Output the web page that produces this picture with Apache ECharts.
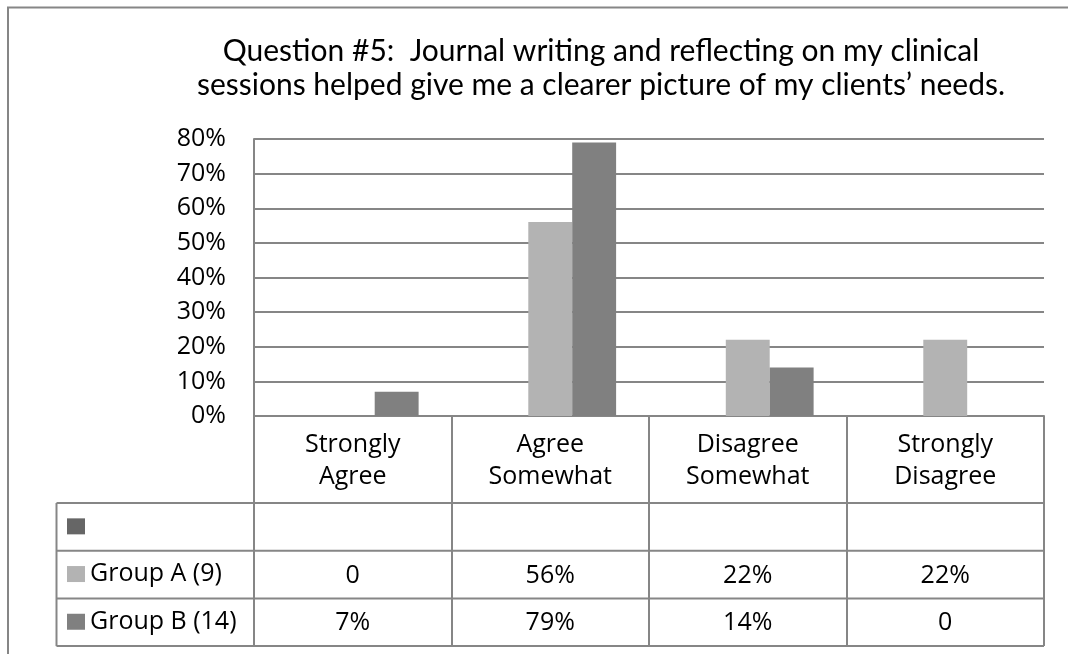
<!DOCTYPE html>
<html>
<head>
<meta charset="utf-8">
<script src="https://cdn.jsdelivr.net/npm/echarts@6/dist/echarts.min.js"></script>
<style>
  html, body { margin: 0; padding: 0; background: #ffffff; }
  #chart { width: 1068px; height: 654px; }
</style>
</head>
<body>
<div id="chart"></div>
<script>
// Survey question and answer categories
const titleLines = [
  'Question #5:  Journal writing and reflecting on my clinical',
  'sessions helped give me a clearer picture of my clients\u2019 needs.'
];
const categories = ['Strongly Agree', 'Agree Somewhat', 'Disagree Somewhat', 'Strongly Disagree'];

// Series (the first one is an unnamed, empty series)
const seriesNames = [' ', 'Group A (9)', 'Group B (14)'];
const blankValues = [null, null, null, null];
const groupAValues = [0, 0.56, 0.22, 0.22];
const groupBValues = [0.07, 0.79, 0.14, 0];

// Value axis ticks
const yTickLabels = ['0%', '10%', '20%', '30%', '40%', '50%', '60%', '70%', '80%'];
const yMin = 0, yMax = 0.8, yStep = 0.1;

const seriesValues = [blankValues, groupAValues, groupBValues];
const colors = ['#666666', '#b3b3b3', '#808080'];
const lineColor = '#868686';
const FONT = '"Open Sans", "Noto Sans", sans-serif';
const TITLE_FONT = 'Lato, "Open Sans", sans-serif';

// plot area and data table geometry
const W = 1068, H = 654;
const gridTop = 139, gridBottom = 238, gridLeft = 254, gridRight = 24;
const plotBottom = H - gridBottom;
const headerH = 87;
const rowH = 47.7;
const tableH = headerH + rowH * seriesNames.length;
const legendLineH = 24;

function fmtCell(v) {
  if (v === null || v === undefined) return '';
  if (v === 0) return '0';
  return Math.round(v * 100) + '%';
}

const chart = echarts.init(document.getElementById('chart'), null, { renderer: 'canvas' });

// one legend entry per table row, sitting in the row's first cell
const legends = seriesNames.map((name, i) => ({
  data: [name],
  orient: 'vertical',
  left: 67,
  top: plotBottom + headerH + (i + 0.5) * rowH - legendLineH / 2 - 1,
  padding: 0,
  itemWidth: 18,
  itemHeight: 16,
  icon: 'rect',
  selectedMode: false,
  textStyle: { fontFamily: FONT, fontSize: 25, color: '#000', lineHeight: legendLineH }
}));

const option = {
  animation: false,
  backgroundColor: '#ffffff',
  color: colors,
  grid: { left: gridLeft, right: gridRight, top: gridTop, bottom: gridBottom, containLabel: false },
  legend: legends,
  xAxis: {
    type: 'category',
    data: categories,
    boundaryGap: true,
    axisLine: { show: true, lineStyle: { color: lineColor, width: 2 } },
    axisTick: { show: true, interval: 0, length: tableH, lineStyle: { color: lineColor, width: 2 } },
    axisLabel: {
      interval: 0,
      margin: 13,
      fontFamily: FONT,
      fontSize: 25,
      lineHeight: 32,
      color: '#000',
      formatter: v => v.replace(' ', '\n')
    },
    splitLine: { show: false }
  },
  yAxis: {
    type: 'value',
    min: yMin,
    max: yMax,
    interval: yStep,
    axisLine: { show: true, lineStyle: { color: lineColor, width: 2 } },
    axisTick: { show: false },
    axisLabel: {
      margin: 28,
      fontFamily: FONT,
      fontSize: 25,
      color: '#000',
      formatter: (v, i) => yTickLabels[i]
    },
    splitLine: { show: true, lineStyle: { color: lineColor, width: 2 } }
  },
  series: seriesNames.map((name, i) => ({
    name: name,
    type: 'bar',
    data: seriesValues[i],
    barGap: '0%',
    barCategoryGap: '33.3%',
    itemStyle: { color: colors[i] }
  }))
};

chart.setOption(option);

// Data table, title and frame, positioned from the axes
function buildGraphics() {
  const c0 = chart.convertToPixel({ xAxisIndex: 0 }, categories[0]);
  const c1 = chart.convertToPixel({ xAxisIndex: 0 }, categories[1]);
  const band = c1 - c0;
  const plotLeft = c0 - band / 2;
  const plotRight = chart.convertToPixel({ xAxisIndex: 0 }, categories[categories.length - 1]) + band / 2;
  const baseY = chart.convertToPixel({ yAxisIndex: 0 }, yMin);
  const tableLeft = plotLeft - band;
  const firstRowY = baseY + headerH;
  const tableBottom = baseY + tableH;

  const els = [];
  // outer chart frame
  els.push({
    type: 'rect', z: 0, silent: true,
    shape: { x: 8, y: 7.5, width: 1200, height: 800 },
    style: { fill: null, stroke: lineColor, lineWidth: 2 }
  });
  // title
  titleLines.forEach((t, i) => {
    els.push({
      type: 'text', z: 10, silent: true,
      x: 601, y: 51 + i * 34,
      style: { text: t, fill: '#000', font: '30px ' + TITLE_FONT, align: 'center', verticalAlign: 'middle' }
    });
  });
  // horizontal table rules
  for (let r = 0; r <= seriesNames.length; r++) {
    const y = firstRowY + r * rowH;
    els.push({
      type: 'line', z: 5, silent: true,
      shape: { x1: tableLeft, y1: y, x2: plotRight, y2: y },
      style: { stroke: lineColor, lineWidth: 2 }
    });
  }
  // left edge of the legend column
  els.push({
    type: 'line', z: 5, silent: true,
    shape: { x1: tableLeft, y1: firstRowY, x2: tableLeft, y2: tableBottom },
    style: { stroke: lineColor, lineWidth: 2 }
  });
  // cell values
  seriesValues.forEach((vals, r) => {
    const y = firstRowY + (r + 0.5) * rowH + 1;
    vals.forEach((v, ci) => {
      const x = chart.convertToPixel({ xAxisIndex: 0 }, categories[ci]);
      els.push({
        type: 'text', z: 10, silent: true,
        x: x, y: y,
        style: { text: fmtCell(v), fill: '#000', font: '25px ' + FONT, align: 'center', verticalAlign: 'middle' }
      });
    });
  });
  chart.setOption({ graphic: { elements: els } });
}

buildGraphics();
</script>
</body>
</html>
